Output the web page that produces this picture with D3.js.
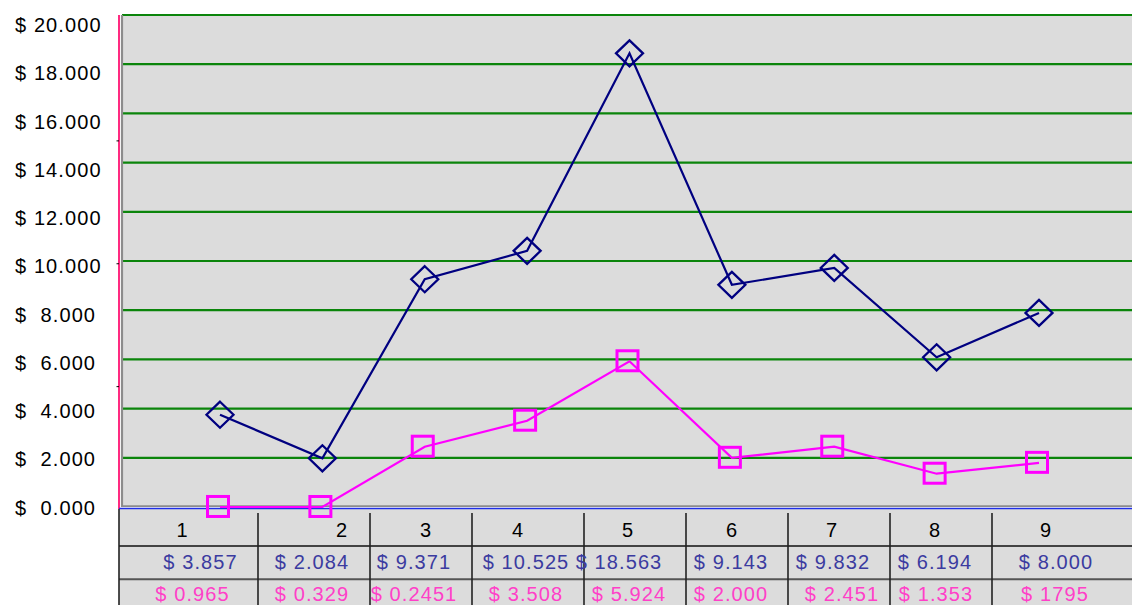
<!DOCTYPE html>
<html>
<head>
<meta charset="utf-8">
<script src="https://cdn.jsdelivr.net/npm/d3@7"></script>
<style>
  body { margin: 0; background: #fff; }
  svg { display: block; font-family: 'Liberation Sans', Arial, sans-serif; }
  text { white-space: pre; }
</style>
</head>
<body>
<div class="chart-container"></div>
<script>
const width = 1132;
const height = 605;

// data
const categories = ['1', '2', '3', '4', '5', '6', '7', '8', '9'];
const blueValues = [3857, 2084, 9371, 10525, 18563, 9143, 9832, 6194, 8000];
const pinkValues = [0.965, 0.329, 2451, 3508, 5924, 2000, 2451, 1353, 1795];
const blueLabels = ['$ 3.857', '$ 2.084', '$ 9.371', '$ 10.525', '$ 18.563', '$ 9.143', '$ 9.832', '$ 6.194', '$ 8.000'];
const pinkLabels = ['$ 0.965', '$ 0.329', '$ 0.2451', '$ 3.508', '$ 5.924', '$ 2.000', '$ 2.451', '$ 1.353', '$ 1795'];
const yTicks = [0, 2000, 4000, 6000, 8000, 10000, 12000, 14000, 16000, 18000, 20000];
const yTickLabels = ['$  0.000', '$  2.000', '$  4.000', '$  6.000', '$  8.000', '$ 10.000',
  '$ 12.000', '$ 14.000', '$ 16.000', '$ 18.000', '$ 20.000'];

// layout of the data table under the plot
const colEdges = [119, 258, 370, 472, 584, 686, 788, 890, 992, 1132];
const catDx = [-6, 28, 5, -10, -7, -5, -7, -6, -16];
const blueDx = [12, -2, -7, -2, -16, -6, -6, -6, -6];
const pinkDx = [4, -2, -7, -2, -6, -6, 3, -5, -7];

const plotLeft = 123, plotRight = 1132, plotTop = 15, plotBottom = 507;
const fontSize = 20;
const letterSpacing = 1.1;

const svg = d3.select('.chart-container').append('svg')
  .attr('width', width)
  .attr('height', height);

const scaleY = d3.scaleLinear().domain([0, 20000]).range([plotBottom, plotTop]);
// the original draws the navy series and the labels a few pixels off the grid
const scaleYBlue = d3.scaleLinear().domain([0, 20000]).range([509.5, 18]);
const scaleLabelY = d3.scaleLinear().domain([0, 20000]).range([507.5, 25]);
const scaleX = d3.scalePoint().domain(categories).range([220, 1039]);

// plot background
svg.append('rect')
  .attr('x', plotLeft).attr('y', plotTop)
  .attr('width', plotRight - plotLeft).attr('height', plotBottom - plotTop)
  .attr('fill', '#dcdcdc');

// table background
svg.append('rect')
  .attr('x', 119).attr('y', 509)
  .attr('width', width - 119).attr('height', height - 509)
  .attr('fill', '#dcdcdc');

// grid lines
svg.append('g').selectAll('line')
  .data(yTicks.filter((d) => d > 0))
  .join('line')
  .attr('x1', 122).attr('x2', plotRight)
  .attr('y1', (d) => scaleY(d)).attr('y2', (d) => scaleY(d))
  .attr('stroke', '#0b850b')
  .attr('stroke-width', 2.2);

// plot frame (grey) and axis lines
svg.append('line').attr('x1', 122).attr('x2', 122).attr('y1', plotTop).attr('y2', plotBottom)
  .attr('stroke', '#8c8c8c').attr('stroke-width', 2.2);
svg.append('line').attr('x1', 121).attr('x2', plotRight).attr('y1', 506.2).attr('y2', 506.2)
  .attr('stroke', '#8c8c8c').attr('stroke-width', 1.8);
svg.append('line').attr('x1', 119).attr('x2', 119).attr('y1', plotTop).attr('y2', 509)
  .attr('stroke', '#ff2a80').attr('stroke-width', 2);
svg.append('line').attr('x1', 119).attr('x2', plotRight).attr('y1', 508.5).attr('y2', 508.5)
  .attr('stroke', '#1f2ee6').attr('stroke-width', 1.6);

// small ticks on the left axis
svg.append('g').selectAll('line')
  .data([5000, 10000, 15000])
  .join('line')
  .attr('x1', 116.5).attr('x2', 119)
  .attr('y1', (d) => scaleYBlue(d)).attr('y2', (d) => scaleYBlue(d))
  .attr('stroke', '#000').attr('stroke-width', 1);

// y labels
svg.append('g').selectAll('text')
  .data(yTicks)
  .join('text')
  .attr('x', 15)
  .attr('y', (d) => scaleLabelY(d))
  .attr('dy', '0.36em')
  .attr('font-size', fontSize)
  .attr('letter-spacing', letterSpacing)
  .attr('fill', '#000')
  .text((d, i) => yTickLabels[i]);

// series lines
const lineBlue = d3.line().x((d, i) => scaleX(categories[i])).y((d) => scaleYBlue(d));
const linePink = d3.line().x((d, i) => scaleX(categories[i])).y((d) => scaleY(d));

svg.append('path')
  .attr('d', lineBlue(blueValues))
  .attr('fill', 'none').attr('stroke', '#000080').attr('stroke-width', 2.2);
svg.append('path')
  .attr('d', linePink(pinkValues))
  .attr('fill', 'none').attr('stroke', '#ff00ff').attr('stroke-width', 2.2);

// markers
svg.append('g').selectAll('path')
  .data(blueValues)
  .join('path')
  .attr('transform', (d, i) => 'translate(' + scaleX(categories[i]) + ',' + scaleYBlue(d) + ')')
  .attr('d', 'M0,-13 L13.5,0 L0,13 L-13.5,0 Z')
  .attr('fill', 'none').attr('stroke', '#000080').attr('stroke-width', 2.3);

svg.append('g').selectAll('rect')
  .data(pinkValues)
  .join('rect')
  .attr('x', (d, i) => scaleX(categories[i]) - 12.5)
  .attr('y', (d) => scaleY(d) - 10.5)
  .attr('width', 21).attr('height', 20)
  .attr('fill', 'none').attr('stroke', '#ff00ff').attr('stroke-width', 3);

// data table
const table = svg.append('g');
table.append('line').attr('x1', 119).attr('x2', width).attr('y1', 546).attr('y2', 546)
  .attr('stroke', '#111').attr('stroke-width', 1.5);
table.append('line').attr('x1', 119).attr('x2', width).attr('y1', 579.3).attr('y2', 579.3)
  .attr('stroke', '#555').attr('stroke-width', 2);
table.selectAll('.col-line')
  .data(colEdges.slice(0, -1))
  .join('line')
  .attr('class', 'col-line')
  .attr('x1', (d) => d).attr('x2', (d) => d)
  .attr('y1', (d, i) => i === 0 ? 509 : 513).attr('y2', height)
  .attr('stroke', '#222').attr('stroke-width', 1.6);

const colCenter = (i) => (colEdges[i] + colEdges[i + 1]) / 2;

const rows = [
  { labels: categories, dx: catDx, y: 530, color: '#000' },
  { labels: blueLabels, dx: blueDx, y: 562, color: '#3b3ba0' },
  { labels: pinkLabels, dx: pinkDx, y: 594, color: '#ff40c8' }
];

rows.forEach((row) => {
  table.append('g').selectAll('text')
    .data(row.labels)
    .join('text')
    .attr('x', (d, i) => colCenter(i) + row.dx[i])
    .attr('y', row.y)
    .attr('dy', '0.36em')
    .attr('text-anchor', 'middle')
    .attr('font-size', fontSize)
    .attr('letter-spacing', letterSpacing)
    .attr('fill', row.color)
    .text((d) => d);
});
</script>
</body>
</html>
